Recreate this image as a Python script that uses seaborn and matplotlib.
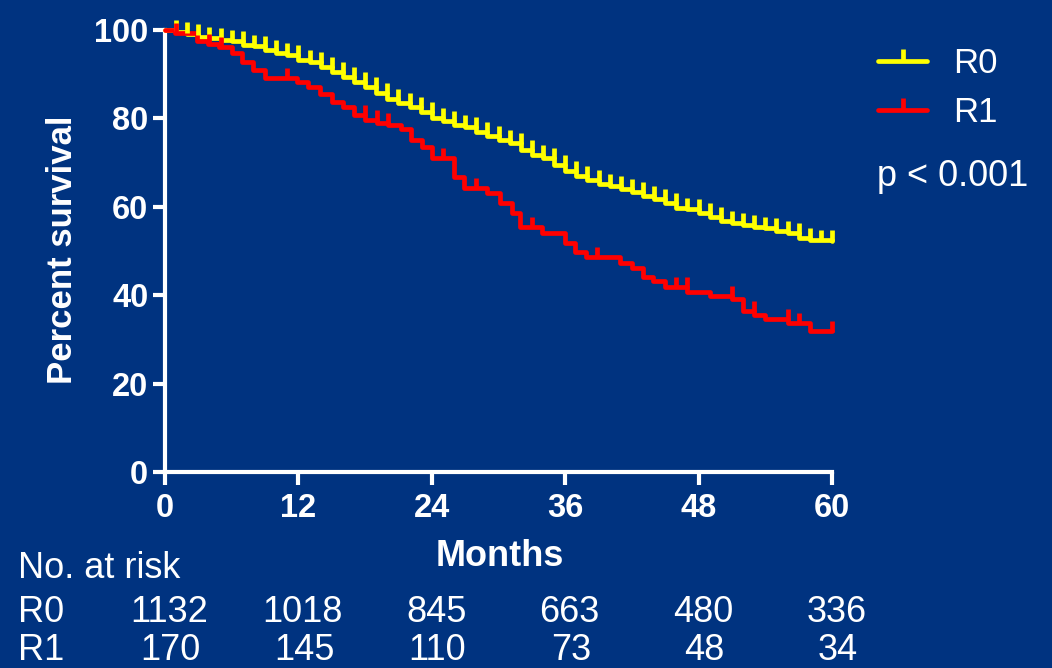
import numpy as np
import pandas as pd
import matplotlib
matplotlib.use("Agg")
import matplotlib.pyplot as plt
from matplotlib.path import Path
from matplotlib.lines import Line2D
from matplotlib.transforms import blended_transform_factory
import seaborn as sns

# ---------------- data ----------------
month_ticks = [0, 12, 24, 36, 48, 60]
pct_ticks = [0, 20, 40, 60, 80, 100]

r0_times = [0, 1, 2, 3, 4, 5, 6, 7, 8, 9, 10, 11, 12, 13, 14, 15, 16, 17, 18, 19,
            20, 21, 22, 23, 24, 25, 26, 27, 28, 29, 30, 31, 32, 33, 34, 35, 36, 37,
            38, 39, 40, 41, 42, 43, 44, 45, 46, 47, 48, 49, 50, 51, 52, 53, 54, 55,
            56, 57, 58, 59, 60]
r0_surv = [100, 99.6, 99.2, 98.5, 98.1, 97.7, 97.4, 96.6, 96.4, 95.5, 94.7, 94.3,
           93.2, 92.8, 91.7, 90.4, 89.3, 88.3, 87.0, 85.7, 84.5, 83.4, 82.6, 81.5,
           80.0, 79.3, 78.5, 78.0, 77.0, 76.0, 75.1, 74.4, 72.9, 71.7, 71.0, 69.5,
           68.1, 67.0, 66.1, 65.2, 64.6, 64.0, 63.3, 62.5, 61.8, 60.8, 59.7, 59.4,
           58.5, 57.6, 56.9, 56.3, 55.9, 55.5, 55.1, 54.6, 54.0, 52.9, 52.6, 52.4, 52.3]
r0_censor = [1, 2, 3, 4, 5, 6, 7, 8, 9, 10, 11, 12, 13, 14, 15, 16, 17, 18, 19, 20,
             21, 22, 23, 24, 25, 26, 27, 28, 29, 30, 31, 32, 33, 34, 35, 36, 37, 38,
             39, 40, 41, 42, 43, 44, 45, 46, 47, 48, 49, 50, 51, 52, 53, 54, 55, 56,
             57, 58, 59, 60]

r1_times = [0, 0.9, 2.9, 3.9, 4.9, 6.0, 6.9, 7.9, 9.0, 11.9, 12.9, 13.9, 15.0, 16.0,
            17.0, 18.0, 19.1, 20.1, 21.2, 22.1, 23.1, 24.0, 26.0, 26.9, 29.0, 30.1,
            31.2, 31.9, 33.9, 36.0, 36.9, 37.9, 40.9, 42.0, 43.0, 43.9, 45.0, 47.0,
            49.0, 51.0, 52.0, 53.0, 54.0, 56.0, 58.0, 60.0]
r1_surv = [100, 99.3, 97.6, 96.8, 96.2, 94.7, 92.8, 91.0, 89.1, 88.3, 87.2, 85.5,
           83.8, 82.6, 80.8, 79.6, 78.9, 78.4, 77.6, 75.1, 73.6, 71.0, 66.8, 64.2,
           63.1, 60.8, 58.5, 55.4, 54.0, 51.8, 49.8, 48.7, 47.2, 46.1, 44.1, 43.3,
           41.9, 40.7, 39.9, 39.1, 36.5, 35.5, 34.6, 33.8, 31.9, 31.9]
r1_censor = [1.0, 4.0, 5.0, 11.0, 18.0, 19.1, 20.1, 25.0, 28.0, 33.0, 38.9, 46.0,
             47.0, 51.0, 53.0, 56.0, 57.0, 60.0]

groups = ["R0", "R1"]
at_risk_r0 = [1132, 1018, 845, 663, 480, 336]
at_risk_r1 = [170, 145, 110, 73, 48, 34]
p_text = "p < 0.001"

# ---------------- style ----------------
BG = "#003380"
YEL = "#FFFF00"
RED = "#FF0000"
sns.set_theme(style="ticks")
plt.rcParams["font.family"] = ["Liberation Sans", "DejaVu Sans"]

fig = plt.figure(figsize=(10.52, 6.68), dpi=100, facecolor=BG)
ax = fig.add_axes([165 / 1052, 1 - 472 / 668, (832 - 165) / 1052, (472 - 30) / 668])
ax.set_facecolor(BG)


def level_before(times, surv, t):
    idx = np.searchsorted(times, t, side="left") - 1
    idx = max(idx, 0)
    return surv[idx]


df = pd.concat([
    pd.DataFrame({"t": r0_times, "s": r0_surv, "g": "R0"}),
    pd.DataFrame({"t": r1_times, "s": r1_surv, "g": "R1"}),
])
cens = pd.concat([
    pd.DataFrame({"t": r0_censor,
                  "s": [level_before(r0_times, r0_surv, c) for c in r0_censor], "g": "R0"}),
    pd.DataFrame({"t": r1_censor,
                  "s": [level_before(r1_times, r1_surv, c) for c in r1_censor], "g": "R1"}),
])
pal = {"R0": YEL, "R1": RED}

tick_path = Path([(0, -0.1), (0, 1)], [Path.MOVETO, Path.LINETO])

LW = 3.4
for g in groups:
    sub = df[df.g == g]
    sns.lineplot(data=sub, x="t", y="s", color=pal[g], linewidth=LW,
                 drawstyle="steps-post", estimator=None, sort=True, ax=ax,
                 clip_on=False, legend=False, zorder=3)
    csub = cens[cens.g == g]
    sns.scatterplot(data=csub, x="t", y="s", marker=tick_path, s=210,
                    color=pal[g], edgecolor=pal[g], linewidth=LW, ax=ax,
                    clip_on=False, legend=False, zorder=4)

ax.set_xlim(0, 60)
ax.set_ylim(0, 100)
ax.set_xticks(month_ticks)
ax.set_yticks(pct_ticks)
ax.set_xlabel("")
ax.set_ylabel("")
for side in ["top", "right"]:
    ax.spines[side].set_visible(False)
for side in ["left", "bottom"]:
    ax.spines[side].set_color("white")
    ax.spines[side].set_linewidth(3)
    ax.spines[side].set_capstyle("projecting")
ax.tick_params(axis="both", colors="white", width=3, length=9, direction="out",
               labelsize=23.5)
ax.tick_params(axis="x", pad=6)
ax.tick_params(axis="y", pad=3)
for lab in ax.get_xticklabels() + ax.get_yticklabels():
    lab.set_fontweight("bold")
    lab.set_color("white")

fig.text(62 / 1052, 1 - 250 / 668, "Percent survival", rotation=90, ha="center",
         va="center", fontsize=25, fontweight="bold", color="white")
fig.text(500 / 1052, 1 - 556 / 668, "Months", ha="center", va="center",
         fontsize=26, fontweight="bold", color="white")

# legend
handles = [Line2D([], [], color=pal[g], linewidth=LW, marker=tick_path,
                  markersize=18, markeredgewidth=LW) for g in groups]
leg = fig.legend(handles, groups, loc="upper left",
                 bbox_to_anchor=(847 / 1052, 1 - 16 / 668), frameon=False,
                 fontsize=25, handlelength=1.4, handletextpad=0.75,
                 labelspacing=0.45, labelcolor="white", borderpad=0.4)
fig.text(877 / 1052, 1 - 176 / 668, p_text, ha="left", va="center",
         fontsize=26, color="white")

# number at risk table
fig.text(18 / 1052, 1 - 569 / 668, "No. at risk", ha="left", va="center",
         fontsize=26, color="white")
fig.text(18 / 1052, 1 - 612 / 668, "R0", ha="left", va="center",
         fontsize=26, color="white")
fig.text(18 / 1052, 1 - 651 / 668, "R1", ha="left", va="center",
         fontsize=26, color="white")
trans = blended_transform_factory(ax.transData, fig.transFigure)
for m, n0, n1 in zip(month_ticks, at_risk_r0, at_risk_r1):
    ax.text(m + 0.4, 1 - 612 / 668, str(n0), transform=trans, ha="center",
            va="center", fontsize=26, color="white", clip_on=False)
    ax.text(m + 0.5, 1 - 651 / 668, str(n1), transform=trans, ha="center",
            va="center", fontsize=26, color="white", clip_on=False)

fig.savefig("out.png", dpi=100, facecolor=BG)
